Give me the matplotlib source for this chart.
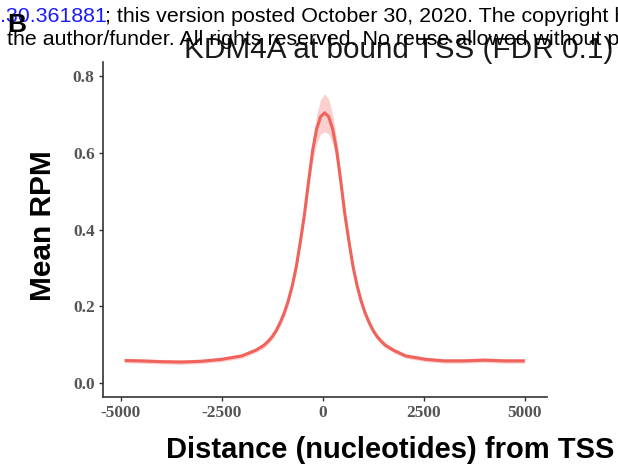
import numpy as np
import matplotlib
matplotlib.use('Agg')
import matplotlib.pyplot as plt

# metaplot of KDM4A signal around bound TSSs
positions = [-4900, -4500, -4000, -3500, -3000, -2500, -2000,
             -1650, -1450, -1350, -1250, -1150, -1050, -950, -850,
             -750, -650, -550, -450, -350, -250, -150, -50,
             50,
             150, 250, 350, 450, 550, 650, 750, 850, 950, 1050,
             1150, 1250, 1350, 1450, 1550,
             1750, 2050, 2550, 3000, 3500, 4000, 4500, 5000]
mean_rpm = [0.059, 0.058, 0.056, 0.055, 0.057, 0.062, 0.071,
            0.086, 0.099, 0.109, 0.121, 0.137, 0.158, 0.183, 0.215,
            0.255, 0.305, 0.370, 0.440, 0.525, 0.605, 0.662, 0.695,
            0.705,
            0.695, 0.662, 0.605, 0.525, 0.440, 0.370, 0.305, 0.255, 0.215, 0.183,
            0.158, 0.137, 0.121, 0.109, 0.099,
            0.086, 0.071, 0.062, 0.058, 0.058, 0.060, 0.058, 0.058]
se_rpm = [0.006, 0.006, 0.006, 0.006, 0.006, 0.006, 0.006,
          0.006, 0.007, 0.007, 0.008, 0.008, 0.009, 0.010, 0.011,
          0.012, 0.014, 0.016, 0.019, 0.023, 0.029, 0.037, 0.045,
          0.050,
          0.045, 0.037, 0.029, 0.023, 0.019, 0.016, 0.014, 0.012, 0.011, 0.010,
          0.009, 0.008, 0.008, 0.007, 0.007,
          0.006, 0.006, 0.006, 0.006, 0.006, 0.006, 0.006, 0.006]

x_ticks = [-5000, -2500, 0, 2500, 5000]
y_ticks = [0.0, 0.2, 0.4, 0.6, 0.8]

x = np.array(positions)
m = np.array(mean_rpm)
se = np.array(se_rpm)

line_col = '#F0625C'
tick_col = '#555555'

fig = plt.figure(figsize=(6.18, 4.72), dpi=100)
ax = fig.add_axes([0.1667, 0.159, 0.718, 0.71])

ax.fill_between(x, m - se, m + se, color=line_col, alpha=0.3, linewidth=0)
ax.plot(x, m, color=line_col, linewidth=2.2, solid_capstyle='butt')

ax.set_xlim(-5433, 5544)
ax.set_ylim(-0.036, 0.838)
ax.set_xticks(x_ticks)
ax.set_xticklabels([str(t) for t in x_ticks])
ax.set_yticks(y_ticks)
ax.set_yticklabels(['%.1f' % t for t in y_ticks])

for side in ['top', 'right']:
    ax.spines[side].set_visible(False)
for side in ['left', 'bottom']:
    ax.spines[side].set_color('#333333')
    ax.spines[side].set_linewidth(1.2)
ax.tick_params(length=3, width=1, color='#333333', pad=3)
for lab in ax.get_xticklabels() + ax.get_yticklabels():
    lab.set_fontfamily('Liberation Serif')
    lab.set_fontweight('bold')
    lab.set_fontsize(12.5)
    lab.set_color(tick_col)

fig.text(0.0696, 0.521, 'Mean RPM', rotation=90, ha='center', va='center',
         fontsize=21.5, fontweight='bold', family='Liberation Sans', color='black')
fig.text(0.269, 1 - 458 / 472, 'Distance (nucleotides) from TSS', ha='left', va='baseline',
         fontsize=21, fontweight='bold', family='Liberation Sans', color='black')
fig.text(0.298, 1 - 58 / 472, 'KDM4A at bound TSS (FDR 0.1)', ha='left', va='baseline',
         fontsize=21.4, family='Liberation Sans', color='#1a1a1a')

# preprint header strip
fig.text(0.0, 1 - 22 / 472, '.30.361881', ha='left', va='baseline',
         fontsize=15.4, family='Liberation Sans', color='#1a1aff')
fig.text(0.170, 1 - 22 / 472, '; this version posted October 30, 2020. The copyright holder',
         ha='left', va='baseline', fontsize=15.4, family='Liberation Sans', color='black')
fig.text(0.011, 1 - 45 / 472, 'the author/funder. All rights reserved. No reuse allowed without permission.',
         ha='left', va='baseline', fontsize=15.4, family='Liberation Sans', color='black')
fig.text(0.011, 1 - 32 / 472, 'B', ha='left', va='baseline', fontsize=19,
         fontweight='bold', family='Liberation Sans', color='black')

fig.savefig('out.png', dpi=100)
